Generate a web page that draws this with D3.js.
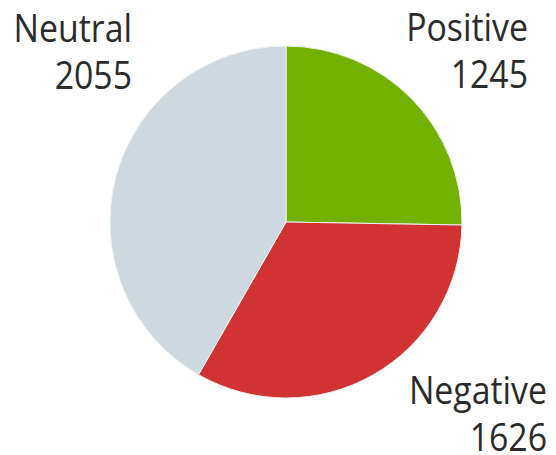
<!DOCTYPE html>
<html>
<head>
<meta charset="utf-8">
<script src="https://cdn.jsdelivr.net/npm/d3@7"></script>
<style>
  body { margin: 0; background: #fff; }
  text { font-family: "Open Sans", sans-serif; fill: #2b2b2b; }
</style>
</head>
<body>
<div id="chart"></div>
<script>
// Chart data
const categories = ["Positive", "Negative", "Neutral"];
const counts = [1245, 1626, 2055];
const colors = ["#73b000", "#d13333", "#cfd8df"];

const width = 556, height = 455;
const cx = 286, cy = 222, radius = 176;

const svg = d3.select("#chart")
    .append("svg")
    .attr("width", width)
    .attr("height", height);

const data = categories.map((c, i) => ({ name: c, value: counts[i], color: colors[i] }));

// Slices go clockwise from 12 o'clock, in data order
const pie = d3.pie()
    .value(d => d.value)
    .sort(null);

const arc = d3.arc()
    .innerRadius(0)
    .outerRadius(radius);

const g = svg.append("g")
    .attr("transform", `translate(${cx}, ${cy})`);

g.selectAll("path")
    .data(pie(data))
    .enter().append("path")
    .attr("d", arc)
    .style("fill", d => d.data.color)
    .style("stroke", "#eef3f5")
    .style("stroke-width", 1);

// Labels sit in the corners, right-aligned; font is a bit condensed
const labelPos = {
    Positive: { x: 528, y: 41 },
    Negative: { x: 547, y: 404 },
    Neutral:  { x: 132, y: 42 }
};

const labels = svg.selectAll(".label")
    .data(data)
    .enter().append("text")
    .attr("class", "label")
    .attr("text-anchor", "end")
    .attr("transform", d => `translate(${labelPos[d.name].x}, ${labelPos[d.name].y}) scale(0.89, 1)`)
    .style("font-size", "38px");

labels.append("tspan")
    .attr("x", 0)
    .text(d => d.name);

labels.append("tspan")
    .attr("x", 0)
    .attr("dy", 47)
    .text(d => d.value);
</script>
</body>
</html>
